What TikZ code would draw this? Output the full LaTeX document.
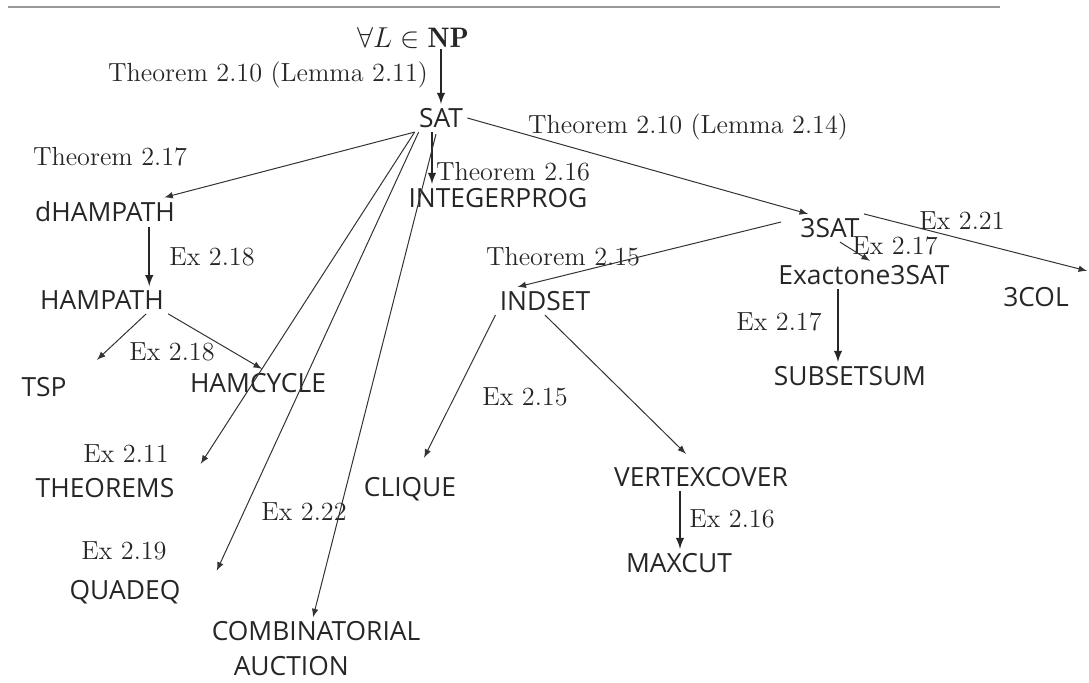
\documentclass[tikz,border=0pt]{standalone}
\usepackage{amsmath}
\usepackage{fontspec}
\setsansfont{Open Sans}
\usetikzlibrary{calc}
\usetikzlibrary{arrows.meta}
\tikzset{>=latex}
\tikzset{prob/.style={font=\sffamily\fontsize{13.2}{18.5}\selectfont, text=black!85, inner sep=2pt},
	lbl/.style={font=\fontsize{13.1}{15}\selectfont, text=black!85, inner sep=0pt},
	redarrow/.style={->, line width=0.5pt, black!80},
	thickarrow/.style={->, line width=0.9pt, black!85}}

\begin{document}
\begin{tikzpicture}[x=0.5pt,y=-0.5pt]
			\useasboundingbox (0,0) rectangle (1089,682);
			\draw[gray!80, line width=1pt] (8,7) -- (1000,7);
			% problems
			\node[lbl, font=\fontsize{14.1}{16}\selectfont] (NP) at (413,38) {$\forall L\in\mathbf{NP}$};
			\node[prob] (SAT) at (441,118) {SAT};
			\node[prob] (INTPROG) at (498,198) {INTEGERPROG};
			\node[prob] (dHAM) at (105,212) {dHAMPATH};
			\node[prob] (HAM) at (102,300) {HAMPATH};
			\node[prob] (TSP) at (44,387) {TSP};
			\node[prob] (HAMC) at (258,383) {HAMCYCLE};
			\node[prob] (THM) at (105,488) {THEOREMS};
			\node[prob] (QUAD) at (125,592) {QUADEQ};
			\node[prob, align=left, font=\sffamily\fontsize{13.2}{17.5}\selectfont] (COMB) at (316,649) {COMBINATORIAL\\\hspace*{11pt}AUCTION};
			\node[prob] (3SAT) at (830,228) {3SAT};
			\node[prob] (EX3) at (864,275) {Exactone3SAT};
			\node[prob] (SUBSET) at (850,376) {SUBSETSUM};
			\node[prob] (3COL) at (1036,297) {3COL};
			\node[prob] (INDSET) at (545,301) {INDSET};
			\node[prob] (CLIQUE) at (410,489) {CLIQUE};
			\node[prob] (VC) at (701,477) {VERTEXCOVER};
			\node[prob] (MAXCUT) at (679,563) {MAXCUT};
			% reductions
			\node[lbl] (lNP) at (268,75) {Theorem 2.10 (Lemma 2.11)};
			\node[lbl] (l3SAT) at (688,127) {Theorem 2.10 (Lemma 2.14)};
			\node[lbl] (lINT) at (513,172) {Theorem 2.16};
			\node[lbl] (ldHAM) at (110,157) {Theorem 2.17};
			\node[lbl] (lHAM) at (212,257) {Ex 2.18};
			\node[lbl] (lHAMC) at (172,352) {Ex 2.18};
			\node[lbl] (lTHM) at (126,454) {Ex 2.11};
			\node[lbl] (lQUAD) at (124,551) {Ex 2.19};
			\node[lbl] (lCOMB) at (304,512) {Ex 2.22};
			\node[lbl] (lIND) at (563,257) {Theorem 2.15};
			\node[lbl] (lVC) at (525,397) {Ex 2.15};
			\node[lbl] (lMAX) at (732,519) {Ex 2.16};
			\node[lbl] (lEX3) at (895,246) {Ex 2.17};
			\node[lbl] (lSUB) at (779,322) {Ex 2.17};
			\node[lbl] (l3COL) at (962,221) {Ex 2.21};
			\draw[thickarrow] (NP.south -| SAT.north) -- (SAT.north);
			\draw[thickarrow] ([shift={(-9,0)}]SAT.south) -- ([shift={(-9,0)}]SAT.south |- INTPROG.north);
			\draw[redarrow] (SAT.south west) -- ([shift={(-15,0)}]dHAM.north east);
			\draw[redarrow] (SAT.south west) -- ([shift={(22,-10)}]THM.north east);
			\draw[redarrow] ([shift={(4,0)}]SAT.south west) -- ([shift={(32,-5)}]QUAD.north east);
			\draw[redarrow] ([shift={(-5,2)}]SAT.south) -- ([shift={(-3,0)}]COMB.north);
			\draw[redarrow] (SAT.east) -- ([shift={(12,0)}]3SAT.north west);
			\draw[thickarrow] ([shift={(-30,0)}]dHAM.south east) -- ([shift={(-30,0)}]dHAM.south east |- HAM.north);
			\draw[redarrow] ([shift={(-22,0)}]HAM.south east) -- ([shift={(26,-13)}]TSP.north east);
			\draw[redarrow] (HAM.south east) -- ([shift={(4,0)}]HAMC.north);
			\draw[redarrow] ([shift={(-15,-6)}]3SAT.west) -- ([shift={(22,0)}]INDSET.north west);
			\draw[redarrow] (INDSET.south west) -- ([shift={(14,-15)}]CLIQUE.north);
			\draw[redarrow] (INDSET.south) -- ([shift={(-15,-9)}]VC.north);
			\draw[thickarrow] ([shift={(-21,0)}]VC.south) -- ([shift={(-21,0)}]VC.south |- MAXCUT.north);
			\draw[redarrow] ([shift={(10,0)}]3SAT.south) -- ([shift={(6,0)}]EX3.north);
			\draw[thickarrow] ([shift={(-26,0)}]EX3.south) -- ([shift={(-26,0)}]EX3.south |- SUBSET.north);
			\draw[redarrow] (3SAT.north east) -- ([shift={(14,-12)}]3COL.north east);
		\end{tikzpicture}
\end{document}
